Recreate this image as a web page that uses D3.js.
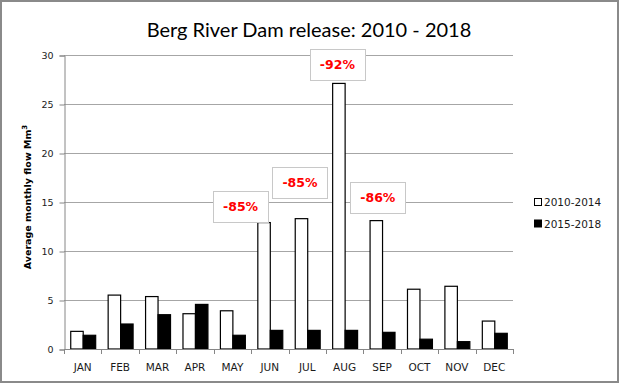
<!DOCTYPE html>
<html>
<head>
<meta charset="utf-8">
<script src="https://cdn.jsdelivr.net/npm/d3@7/dist/d3.min.js"></script>
<style>
	body { margin: 0; background: #fff; }
	svg { display: block; font-family: "DejaVu Sans", sans-serif; }
</style>
</head>
<body>
<div id="chart"></div>
<script>
var months = ["JAN", "FEB", "MAR", "APR", "MAY", "JUN", "JUL", "AUG", "SEP", "OCT", "NOV", "DEC"];
var series = ["2010-2014", "2015-2018"];
var flow2010 = [1.8, 5.5, 5.35, 3.6, 3.9, 12.9, 13.3, 27.1, 13.1, 6.1, 6.4, 2.85];
var flow2015 = [1.4, 2.55, 3.5, 4.55, 1.4, 1.9, 1.9, 1.9, 1.7, 1.0, 0.75, 1.6];
var yTicks = [0, 5, 10, 15, 20, 25, 30];
var changeMonths = ["JUN", "JUL", "AUG", "SEP"];
var changeLabels = ["-85%", "-85%", "-92%", "-86%"];

// hand nudges for the callout boxes (px, relative to the top of the white bar)
var labelNudge = [[-23, -1], [-1, -21], [-1, -3], [2, -8]];

var W = 620, H = 384;
var margin = {top: 55, left: 64, right: 107, bottom: 35};

var svg = d3.select("#chart").append("svg")
	.attr("width", W)
	.attr("height", H);

svg.append("rect")
	.attr("x", 1).attr("y", 1)
	.attr("width", W - 3).attr("height", H - 3)
	.attr("fill", "#fff")
	.attr("stroke", "#8a8a8a")
	.attr("stroke-width", 2);

var x = d3.scaleBand()
	.domain(months)
	.range([margin.left, W - margin.right]);

var x1 = d3.scaleBand()
	.domain(series)
	.range([0, x.bandwidth()])
	.paddingInner(0)
	.paddingOuter(0.5);

var y = d3.scaleLinear()
	.domain([0, 30])
	.range([H - margin.bottom, margin.top]);

// gridlines
svg.append("g")
	.selectAll("line")
	.data(yTicks.slice(1))
	.enter().append("line")
	.attr("x1", margin.left)
	.attr("x2", W - margin.right)
	.attr("y1", function(d) { return Math.round(y(d)) + 0.5; })
	.attr("y2", function(d) { return Math.round(y(d)) + 0.5; })
	.attr("stroke", "#a6a6a6")
	.attr("stroke-width", 1);

// y axis
var yAxis = svg.append("g")
	.attr("transform", "translate(" + (margin.left + 0.5) + ",0.5)")
	.call(d3.axisLeft(y).tickValues(yTicks).tickSize(5).tickPadding(6));
yAxis.select(".domain").attr("stroke", "#868686");
yAxis.selectAll(".tick line").attr("stroke", "#868686");
yAxis.selectAll("text")
	.attr("font-size", "9.5px")
	.attr("fill", "#1a1a1a")
	.attr("font-family", "DejaVu Sans, sans-serif");

// bars
var groups = svg.append("g")
	.selectAll("g")
	.data(months)
	.enter().append("g")
	.attr("transform", function(d) { return "translate(" + x(d) + ",0)"; });

groups.append("rect")
	.attr("x", function() { return x1(series[0]) + 0.5; })
	.attr("y", function(d, i) { return y(flow2010[i]); })
	.attr("width", x1.bandwidth())
	.attr("height", function(d, i) { return y(0) - y(flow2010[i]); })
	.attr("fill", "#fff")
	.attr("stroke", "#000")
	.attr("stroke-width", 1.2);

groups.append("rect")
	.attr("x", function() { return x1(series[1]) + 0.5; })
	.attr("y", function(d, i) { return y(flow2015[i]); })
	.attr("width", x1.bandwidth())
	.attr("height", function(d, i) { return y(0) - y(flow2015[i]); })
	.attr("fill", "#000")
	.attr("stroke", "#000")
	.attr("stroke-width", 1.2);

// x axis
svg.append("line")
	.attr("x1", margin.left)
	.attr("x2", W - margin.right)
	.attr("y1", Math.round(y(0)) + 0.5)
	.attr("y2", Math.round(y(0)) + 0.5)
	.attr("stroke", "#868686");

svg.append("g")
	.selectAll("line")
	.data(months.concat(["end"]))
	.enter().append("line")
	.attr("x1", function(d, i) { return Math.round(margin.left + i * x.bandwidth()) + 0.5; })
	.attr("x2", function(d, i) { return Math.round(margin.left + i * x.bandwidth()) + 0.5; })
	.attr("y1", y(0))
	.attr("y2", y(0) + 5)
	.attr("stroke", "#868686");

svg.append("g")
	.selectAll("text")
	.data(months)
	.enter().append("text")
	.attr("x", function(d) { return x(d) + x.bandwidth() / 2; })
	.attr("y", y(0) + 22)
	.attr("text-anchor", "middle")
	.attr("font-size", "10.5px")
	.attr("fill", "#1a1a1a")
	.text(function(d) { return d; });

// y title
svg.append("text")
	.attr("transform", "translate(31," + (y(15) - 5) + ") rotate(-90)")
	.attr("text-anchor", "middle")
	.attr("font-size", "9.5px")
	.attr("font-weight", "bold")
	.attr("fill", "#000")
	.text("Average monthly flow Mm")
	.append("tspan")
	.attr("dy", -4)
	.attr("font-size", "7px")
	.text("3");

// title
svg.append("text")
	.attr("x", 309)
	.attr("y", 37)
	.attr("text-anchor", "middle")
	.attr("font-size", "20px")
	.attr("font-family", "Lato, sans-serif")
	.attr("fill", "#000")
	.text("Berg River Dam release:  2010 - 2018");

// callouts
changeMonths.forEach(function(m, i) {
	var idx = months.indexOf(m);
	var cx = x(m) + x1(series[0]) + x1.bandwidth() / 2 + labelNudge[i][0];
	var bottom = y(flow2010[idx]) + labelNudge[i][1];
	var bw = 55, bh = 31;
	svg.append("rect")
		.attr("x", Math.round(cx - bw / 2) + 0.5)
		.attr("y", Math.round(bottom - bh) + 0.5)
		.attr("width", bw)
		.attr("height", bh)
		.attr("fill", "#fff")
		.attr("stroke", "#c8c8c8")
		.attr("stroke-width", 1);
	svg.append("text")
		.attr("x", cx)
		.attr("y", bottom - bh / 2 + 4.5)
		.attr("text-anchor", "middle")
		.attr("font-size", "12.5px")
		.attr("font-weight", "bold")
		.attr("fill", "#ff0000")
		.text(changeLabels[i]);
});

// legend
var legend = svg.append("g")
	.selectAll("g")
	.data(series)
	.enter().append("g")
	.attr("transform", function(d, i) { return "translate(534," + (202 + i * 21.5) + ")"; });

legend.append("rect")
	.attr("x", 0.5).attr("y", -3.5)
	.attr("width", 7).attr("height", 7)
	.attr("fill", function(d, i) { return i == 0 ? "#fff" : "#000"; })
	.attr("stroke", "#000");

legend.append("text")
	.attr("x", 10)
	.attr("y", 4)
	.attr("font-size", "10.5px")
	.attr("fill", "#1a1a1a")
	.text(function(d) { return d; });
</script>
</body>
</html>
